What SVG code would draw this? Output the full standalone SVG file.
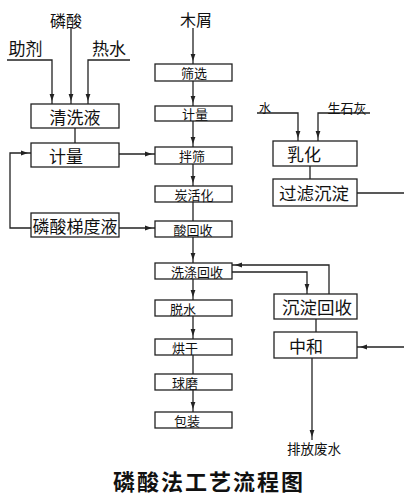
<svg xmlns="http://www.w3.org/2000/svg" width="408" height="501" viewBox="0 0 408 501">
<defs>
<marker id="ah" markerUnits="userSpaceOnUse" markerWidth="12" markerHeight="6" refX="10" refY="3" orient="auto">
<path d="M0,0.6 L7,3 L0,5.4 Z" fill="#222"/>
</marker>
<style>
.box{fill:#fff;stroke:#222;stroke-width:1.3}
.ln{fill:none;stroke:#222;stroke-width:1.3}
.ar{marker-end:url(#ah)}
text{font-family:"Noto Sans CJK SC","Noto Sans",sans-serif;fill:#111;text-anchor:middle;dominant-baseline:central}
.s{font-size:13px}
.m{font-size:17px}
.title{font-size:22px;font-weight:bold;letter-spacing:2px}
</style>
</defs>
<rect width="408" height="501" fill="#fff"/>
<g id="connectors">
<polyline class="ln ar" points="193,28 193,64"/>
<polyline class="ln ar" points="193,81 193,106"/>
<polyline class="ln ar" points="193,121 193,147"/>
<polyline class="ln ar" points="193,164 193,186"/>
<polyline class="ln" points="193,202 193,221"/>
<polyline class="ln ar" points="193,237 193,263"/>
<polyline class="ln ar" points="193,279 193,300"/>
<polyline class="ln ar" points="193,316 193,339"/>
<polyline class="ln" points="193,355 193,374"/>
<polyline class="ln ar" points="193,390 193,412"/>
<polyline class="ln ar" points="7,60 52,60 52,104"/>
<polyline class="ln ar" points="71,28 71,104"/>
<polyline class="ln ar" points="130,60 88,60 88,104"/>
<polyline class="ln" points="75,128 75,143"/>
<polyline class="ln ar" points="119,154 155,154"/>
<polyline class="ln ar" points="31,228 10,228 10,153 31,153"/>
<polyline class="ln ar" points="119,228 155,228"/>
<polyline class="ln ar" points="257,113 298,113 298,141"/>
<polyline class="ln ar" points="370,113 318,113 318,141"/>
<polyline class="ln" points="310,166 310,179"/>
<polyline class="ln" points="357,193 404,193"/>
<polyline class="ln ar" points="232,272 307,272 307,294"/>
<polyline class="ln ar" points="329,294 329,265 232,265"/>
<polyline class="ln" points="316,319 316,332"/>
<polyline class="ln ar" points="404,347 357,347"/>
<polyline class="ln ar" points="312,358 312,440"/>
</g>
<g id="inputs">
<text class="m" x="66" y="19.5" style="font-size:16px">磷酸</text>
<text class="m" x="25.5" y="47.5">助剂</text>
<text class="m" x="109" y="47.5">热水</text>
<text class="m" x="196" y="19" style="font-size:16px">木屑</text>
<text x="265" y="107" style="font-size:12px">水</text>
<text class="s" x="347" y="107.5">生石灰</text>
<text x="314" y="448" style="font-size:13.5px">排放废水</text>
</g>
<g id="qingxiye"><rect class="box" x="31" y="104" width="88" height="24"/><text class="m" x="75" y="116">清洗液</text></g>
<g id="jiliang-left"><rect class="box" x="31" y="143" width="88" height="24"/><text class="m" x="66" y="155">计量</text></g>
<g id="tiduye"><rect class="box" x="31" y="213" width="88" height="24"/><text class="m" x="75" y="225">磷酸梯度液</text></g>
<g id="shaixuan"><rect class="box" x="155" y="64" width="77" height="17"/><text class="s" x="194" y="72.5">筛选</text></g>
<g id="jiliang"><rect class="box" x="155" y="106" width="77" height="15"/><text class="s" x="195" y="113.5">计量</text></g>
<g id="banshai"><rect class="box" x="155" y="147" width="77" height="17"/><text class="s" x="192" y="155.5">拌筛</text></g>
<g id="tanhuohua"><rect class="box" x="155" y="186" width="77" height="16"/><text class="s" x="194" y="194">炭活化</text></g>
<g id="suanhuishou"><rect class="box" x="155" y="221" width="77" height="16"/><text class="s" x="193" y="229">酸回收</text></g>
<g id="xidihuishou"><rect class="box" x="155" y="263" width="77" height="16"/><text class="s" x="197" y="271">洗涤回收</text></g>
<g id="tuoshui"><rect class="box" x="155" y="300" width="77" height="16"/><text class="s" x="183" y="308">脱水</text></g>
<g id="honggan"><rect class="box" x="155" y="339" width="77" height="16"/><text class="s" x="185" y="347">烘干</text></g>
<g id="qiumo"><rect class="box" x="155" y="374" width="77" height="16"/><text class="s" x="185" y="382">球磨</text></g>
<g id="baozhuang"><rect class="box" x="155" y="412" width="77" height="16"/><text class="s" x="187" y="420">包装</text></g>
<g id="ruhua"><rect class="box" x="273" y="141" width="84" height="25"/><text class="m" x="304" y="153.5">乳化</text></g>
<g id="guolvchendian"><rect class="box" x="273" y="179" width="84" height="27"/><text class="m" x="314" y="192.5" style="font-size:17.5px">过滤沉淀</text></g>
<g id="chendianhuishou"><rect class="box" x="274" y="294" width="83" height="25"/><text class="m" x="317" y="306.5" style="font-size:17.5px">沉淀回收</text></g>
<g id="zhonghe"><rect class="box" x="274" y="332" width="83" height="26"/><text class="m" x="306" y="345">中和</text></g>
<g id="title"><text class="title" x="209" y="480">磷酸法工艺流程图</text></g>
</svg>
